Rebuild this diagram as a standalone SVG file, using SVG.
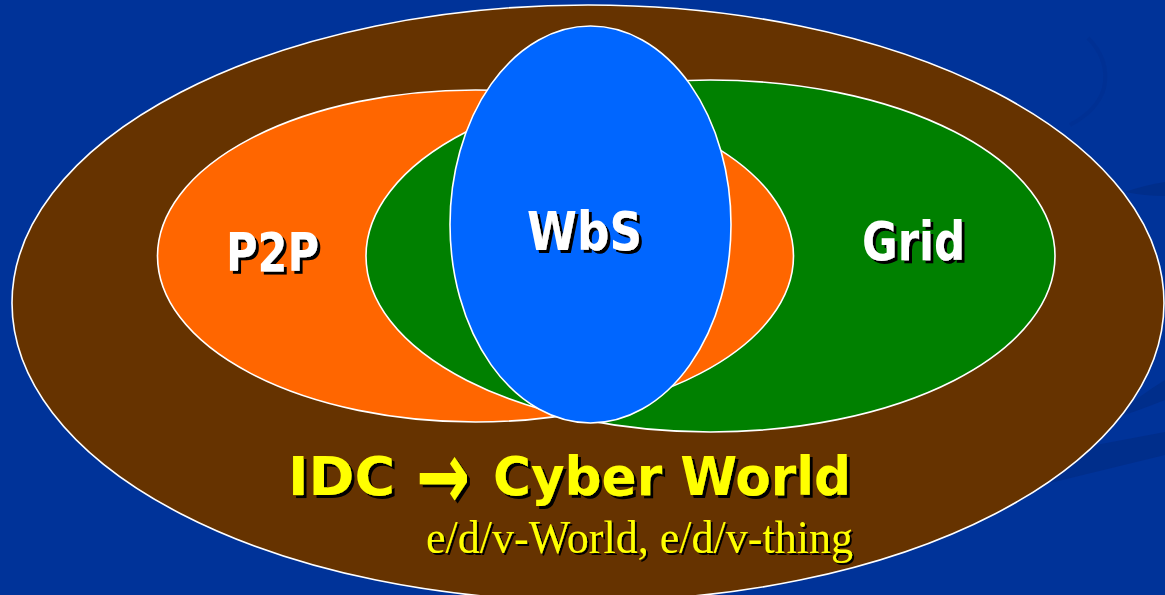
<svg xmlns="http://www.w3.org/2000/svg" width="1165" height="595" viewBox="0 0 1165 595">
<style>
.ol{stroke:#ffffff;stroke-width:1.6}
.lbl{font-family:"DejaVu Sans","Liberation Sans",sans-serif;font-weight:bold;font-size:53px}
.arr{font-family:"DejaVu Sans",sans-serif;font-weight:bold;font-size:96px}
.w{fill:#ffffff}
.y{fill:#ffff00}
.ser{font-family:"Liberation Serif","DejaVu Serif",serif;font-size:46px}
.streak{fill:#002a80;opacity:0.55}
</style>
<defs>
<clipPath id="rightPart"><rect x="640" y="0" width="525" height="595"/></clipPath>
<filter id="ds" x="-10%" y="-20%" width="120%" height="150%">
<feOffset in="SourceAlpha" dx="3" dy="3" result="off"/>
<feMerge><feMergeNode in="off"/><feMergeNode in="SourceGraphic"/></feMerge>
</filter>
<filter id="ds2" x="-10%" y="-20%" width="120%" height="150%">
<feOffset in="SourceAlpha" dx="2" dy="2" result="off"/>
<feMerge><feMergeNode in="off"/><feMergeNode in="SourceGraphic"/></feMerge>
</filter>
</defs>
<rect width="1165" height="595" fill="#003399"/>
<g id="background-streaks">
<path class="streak" d="M1050,483 L1165,455 L1165,432 L1085,447 Z"/>
<path class="streak" d="M1110,420 Q1140,395 1165,380 L1165,400 Q1140,410 1110,420 Z"/>
<path class="streak" d="M1125,192 Q1145,185 1165,182 L1165,196 Q1145,196 1125,192 Z" opacity="0.35"/>
<path d="M1088,38 Q1110,60 1104,88 Q1098,110 1070,125" fill="none" stroke="#002e8c" stroke-width="4" opacity="0.4"/>
</g>
<g id="cyber-world">
<ellipse cx="588" cy="303" rx="576" ry="298" fill="#663300" class="ol"/>
</g>
<g id="p2p">
<ellipse cx="475.5" cy="256" rx="318" ry="166" fill="#ff6600" class="ol"/>
</g>
<g id="grid">
<ellipse cx="710.5" cy="256" rx="344.5" ry="176" fill="#008000" class="ol"/>
</g>
<g id="p2p-overlap">
<ellipse cx="475.5" cy="256" rx="318" ry="166" fill="#ff6600" class="ol" clip-path="url(#rightPart)"/>
</g>
<g id="wbs">
<ellipse cx="590.5" cy="224.5" rx="140.5" ry="198.5" fill="#0066ff" class="ol"/>
</g>
<g id="connectors"></g>
<g id="labels">
<text class="lbl w" filter="url(#ds)" x="226" y="271" textLength="93" lengthAdjust="spacingAndGlyphs">P2P</text>
<text class="lbl w" filter="url(#ds)" x="527" y="250" textLength="115" lengthAdjust="spacingAndGlyphs">WbS</text>
<text class="lbl w" filter="url(#ds)" x="862" y="260" textLength="103" lengthAdjust="spacingAndGlyphs">Grid</text>
<text class="lbl y" filter="url(#ds)" x="288" y="495" textLength="107" lengthAdjust="spacingAndGlyphs">IDC</text>
<text class="arr y" filter="url(#ds)" x="416" y="509" textLength="54" lengthAdjust="spacingAndGlyphs">→</text>
<text class="lbl y" filter="url(#ds)" x="493" y="495" textLength="358" lengthAdjust="spacingAndGlyphs">Cyber World</text>
<text class="ser y" filter="url(#ds2)" x="426" y="553" textLength="427" lengthAdjust="spacingAndGlyphs">e/d/v-World, e/d/v-thing</text>
</g>
</svg>
